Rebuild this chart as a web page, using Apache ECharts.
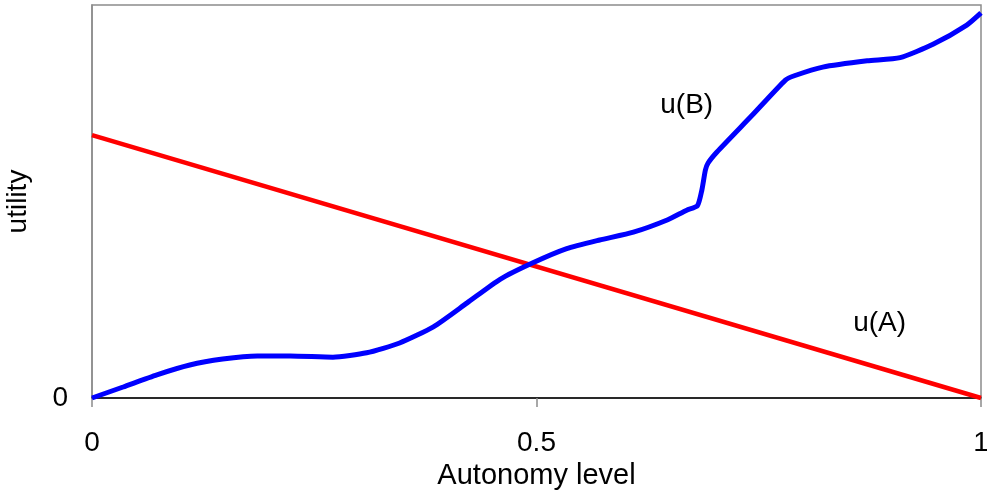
<!DOCTYPE html>
<html><head><meta charset="utf-8">
<script src="https://cdn.jsdelivr.net/npm/echarts@6/dist/echarts.min.js"></script>
<style>html,body{margin:0;padding:0;background:#fff}#c{width:987px;height:491px}</style>
</head><body><div id="c"></div>
<script>
const xTicks = [0, 0.5, 1];
const yTicks = [0];
const uA_x = [0, 1];
const uA_y = [0.669, 0];
const uB_x = [0, 0.035, 0.073, 0.110, 0.147, 0.186, 0.223, 0.271, 0.309, 0.346, 0.384, 0.422, 0.459, 0.496, 0.534, 0.571, 0.609, 0.647, 0.669, 0.681, 0.686, 0.690, 0.693, 0.703, 0.742, 0.780, 0.790, 0.822, 0.872, 0.909, 0.946, 0.984, 1.0];
const uB_y = [0, 0.028, 0.059, 0.084, 0.099, 0.107, 0.107, 0.104, 0.115, 0.140, 0.181, 0.242, 0.302, 0.344, 0.380, 0.402, 0.422, 0.453, 0.478, 0.489, 0.529, 0.580, 0.598, 0.626, 0.718, 0.809, 0.820, 0.842, 0.858, 0.866, 0.900, 0.949, 0.980];
const labelA = 'u(A)';
const labelB = 'u(B)';

const chart = echarts.init(document.getElementById('c'));
const F = 'Liberation Sans, Arial, sans-serif';
const FS = 28;
const lbl = (txt) => ({show: true, position: 'inside', formatter: txt, fontFamily: F, fontSize: FS, color: '#000'});
chart.setOption({
  animation: false,
  grid: {left: 92, right: 6, top: 5, bottom: 93, show: true, borderColor: '#8c8c8c', borderWidth: 1.5,
         containLabel: false, outerBoundsMode: 'none'},
  xAxis: {
    type: 'value', min: 0, max: 1, interval: 0.5,
    name: 'Autonomy level', nameLocation: 'middle', nameGap: 63,
    nameTextStyle: {fontFamily: F, fontSize: 29, color: '#000'},
    axisLine: {show: true, lineStyle: {color: '#000', width: 1.5}},
    axisTick: {show: true, length: 9, lineStyle: {color: '#8c8c8c', width: 1.5}},
    axisLabel: {fontFamily: F, fontSize: FS, color: '#000', margin: 31,
      formatter: v => xTicks.includes(v) ? String(v) : ''},
    splitLine: {show: false}
  },
  yAxis: {
    type: 'value', min: 0, max: 1, interval: 1,
    name: 'utility', nameLocation: 'middle', nameGap: 60,
    nameTextStyle: {fontFamily: F, fontSize: FS, color: '#000'},
    axisLine: {show: true, lineStyle: {color: '#8c8c8c', width: 1.5}},
    axisTick: {show: false},
    axisLabel: {fontFamily: F, fontSize: FS, color: '#000', margin: 24,
      formatter: v => yTicks.includes(v) ? String(v) : ''},
    splitLine: {show: false}
  },
  series: [
    {type: 'line', data: uA_x.map((x, i) => [x, uA_y[i]]), symbol: 'none',
     lineStyle: {color: '#ff0000', width: 4.5}, z: 2,
     markPoint: {symbol: 'circle', symbolSize: 1, itemStyle: {color: 'rgba(0,0,0,0)'},
       data: [{coord: [0.886, 0.19], label: lbl(labelA)}]}},
    {type: 'line', data: uB_x.map((x, i) => [x, uB_y[i]]), symbol: 'none', smooth: 0.2,
     lineStyle: {color: '#0000ff', width: 5}, z: 3,
     markPoint: {symbol: 'circle', symbolSize: 1, itemStyle: {color: 'rgba(0,0,0,0)'},
       data: [{coord: [0.669, 0.745], label: lbl(labelB)}]}}
  ]
});
</script></body></html>
